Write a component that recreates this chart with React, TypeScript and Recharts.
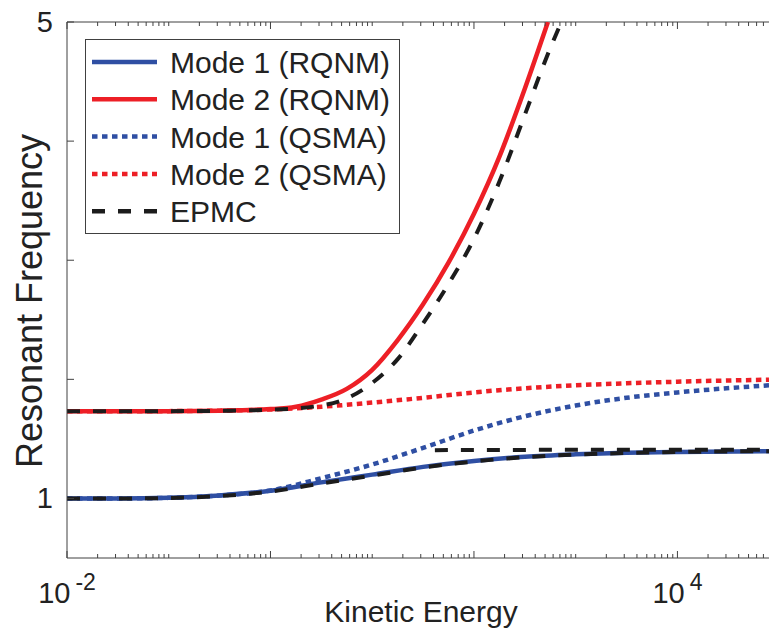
import { LineChart, Line, XAxis, YAxis, ReferenceLine, Legend, Label } from 'recharts';

const FONT = '"Liberation Sans", Arial, Helvetica, sans-serif';
const AXIS = '#404040';
const TEXT = '#222222';
const BLUE = '#2f4fa3';
const RED = '#ed1f26';
const BLACK = '#1c1c1c';

// shared energy grid (log-spaced samples)
const energyGrid = [0.01, 0.0316, 0.1, 0.316, 1, 3.16, 10, 31.6, 100, 316, 1000, 3162, 10000, 79433];
const mode1RqnmFreq = [1.0, 1.0, 1.005, 1.025, 1.065, 1.135, 1.2, 1.265, 1.315, 1.35, 1.37, 1.383, 1.39, 1.396];
const mode1QsmaFreq = [1.0, 1.0, 1.005, 1.025, 1.067, 1.17, 1.285, 1.425, 1.57, 1.69, 1.78, 1.845, 1.89, 1.95];
const mode2QsmaFreq = [1.732, 1.732, 1.733, 1.737, 1.747, 1.77, 1.805, 1.845, 1.89, 1.925, 1.95, 1.967, 1.98, 1.997];
const epmcLowFreq = [1.0, 1.0, 1.004, 1.02, 1.058, 1.125, 1.192, 1.26, 1.31, 1.347, 1.368, 1.382, 1.39, 1.397];

const mode2RqnmEnergy = [0.01, 0.1, 0.316, 1, 1.78, 3.16, 5.62, 10, 17.8, 31.6, 56.2, 100, 178, 316, 533];
const mode2RqnmFreq = [1.732, 1.733, 1.737, 1.75, 1.77, 1.83, 1.92, 2.08, 2.33, 2.63, 2.98, 3.39, 3.87, 4.44, 5.0];

const epmcHighEnergy = [0.01, 0.1, 0.316, 1, 3.16, 5.62, 10, 17.8, 31.6, 56.2, 100, 178, 316, 562, 724];
const epmcHighFreq = [1.732, 1.733, 1.736, 1.745, 1.78, 1.84, 1.97, 2.17, 2.47, 2.8, 3.18, 3.66, 4.22, 4.78, 5.0];

const epmcFlatEnergy = [41.3, 100, 1000, 10000, 79433];
const epmcFlatFreq = [1.405, 1.407, 1.408, 1.408, 1.408];

const X_MIN = 0.01;
const X_MAX = 79433;
const xMajorTicks = [0.01, 1, 100, 10000];
const xTickExp: Record<string, string> = { '0.01': '-2', '10000': '4' };
const yTicks = [1, 2, 3, 4, 5];
const yTickLabels: Record<string, string> = { '1': '1', '5': '5' };

const xTicks: number[] = [];
for (let n = -2; n <= 4; n++) {
  for (let k = 1; k <= 9; k++) {
    const v = k * Math.pow(10, n);
    if (v <= X_MAX) xTicks.push(v);
  }
}

const zip = (es: number[], fs: number[]) => es.map((e, i) => ({ e, f: fs[i] }));

const mode1Rqnm = zip(energyGrid, mode1RqnmFreq);
const mode2Rqnm = zip(mode2RqnmEnergy, mode2RqnmFreq);
const mode1Qsma = zip(energyGrid, mode1QsmaFreq);
const mode2Qsma = zip(energyGrid, mode2QsmaFreq);
const epmcLow = zip(energyGrid, epmcLowFreq);
const epmcHigh = zip(epmcHighEnergy, epmcHighFreq);
const epmcFlat = zip(epmcFlatEnergy, epmcFlatFreq);

const PLOT_TOP = 22;
const DOT = '5.5 4.5';
const DASH = '13 13';

const legendItems = [
  { name: 'Mode 1 (RQNM)', color: BLUE, dash: undefined },
  { name: 'Mode 2 (RQNM)', color: RED, dash: undefined },
  { name: 'Mode 1 (QSMA)', color: BLUE, dash: DOT },
  { name: 'Mode 2 (QSMA)', color: RED, dash: DOT },
  { name: 'EPMC', color: BLACK, dash: DASH },
];

const XTick = (props: any) => {
  const { x, y, payload } = props;
  const v = payload.value;
  const len = xMajorTicks.includes(v) ? 7 : 4;
  const exp = xTickExp[String(v)];
  return (
    <g>
      <line x1={x} y1={y} x2={x} y2={y - len} stroke={AXIS} />
      <line x1={x} y1={PLOT_TOP} x2={x} y2={PLOT_TOP + len} stroke={AXIS} />
      {exp && (
        <text x={x} y={y + 45} textAnchor="middle" fontFamily={FONT} fontSize={29} fill={TEXT}>
          <tspan>10</tspan>
          <tspan dx={5} dy={-13} fontSize={23}>{exp}</tspan>
        </text>
      )}
    </g>
  );
};

const YTick = (props: any) => {
  const { x, y, payload } = props;
  const label = yTickLabels[String(payload.value)];
  return (
    <g>
      <line x1={x} y1={y} x2={x + 7} y2={y} stroke={AXIS} />
      {label && (
        <text x={x - 14} y={y + 10} textAnchor="end" fontFamily={FONT} fontSize={29} fill={TEXT}>
          {label}
        </text>
      )}
    </g>
  );
};

const renderLegend = () => (
  <svg width={316} height={196} style={{ display: 'block' }}>
    <rect x={0.5} y={0.5} width={314} height={194} fill="#fff" stroke={AXIS} />
    {legendItems.map((it, i) => {
      const cy = 23 + i * 37.3;
      return (
        <g key={it.name}>
          <line x1={7} x2={72} y1={cy} y2={cy} stroke={it.color} strokeWidth={4.5} strokeDasharray={it.dash} />
          <text x={85} y={cy + 11} fontFamily={FONT} fontSize={30} fill={TEXT}>
            {it.name}
          </text>
        </g>
      );
    })}
  </svg>
);

export default function App() {
  return (
    <div style={{ position: 'absolute', left: 0, top: 0, width: 769, height: 632, overflow: 'hidden' }}>
      <LineChart width={769} height={632} margin={{ top: PLOT_TOP, right: 0, bottom: 0, left: 0 }}>
        <XAxis
          dataKey="e"
          type="number"
          scale="log"
          domain={[X_MIN, X_MAX]}
          allowDataOverflow
          ticks={xTicks}
          interval={0}
          height={74}
          tickSize={0}
          tickMargin={0}
          tickLine={false}
          axisLine={{ stroke: AXIS }}
          tick={<XTick />}
        >
          <Label
            content={() => (
              <text x={421} y={622} textAnchor="middle" fontFamily={FONT} fontSize={30} fill={TEXT}>
                Kinetic Energy
              </text>
            )}
          />
        </XAxis>
        <YAxis
          type="number"
          domain={[0.5, 5]}
          allowDataOverflow
          ticks={yTicks}
          interval={0}
          width={67}
          tickSize={0}
          tickMargin={0}
          tickLine={false}
          axisLine={{ stroke: AXIS }}
          tick={<YTick />}
        >
          <Label
            content={() => (
              <text
                x={42}
                y={301}
                transform="rotate(-90 42 301)"
                textAnchor="middle"
                fontFamily={FONT}
                fontSize={36}
                fill={TEXT}
              >
                Resonant Frequency
              </text>
            )}
          />
        </YAxis>
        <ReferenceLine y={5} stroke={AXIS} strokeWidth={1} />
        <Legend
          layout="vertical"
          align="center"
          verticalAlign="middle"
          content={renderLegend}
          wrapperStyle={{ left: 85, top: 39, width: 316, height: 196 }}
        />
        <Line data={mode1Rqnm} dataKey="f" type="monotone" stroke={BLUE} strokeWidth={4.5} dot={false} activeDot={false} isAnimationActive={false} />
        <Line data={mode2Rqnm} dataKey="f" type="monotone" stroke={RED} strokeWidth={4.5} dot={false} activeDot={false} isAnimationActive={false} />
        <Line data={mode1Qsma} dataKey="f" type="monotone" stroke={BLUE} strokeWidth={4.5} strokeDasharray={DOT} dot={false} activeDot={false} isAnimationActive={false} />
        <Line data={mode2Qsma} dataKey="f" type="monotone" stroke={RED} strokeWidth={4.5} strokeDasharray={DOT} dot={false} activeDot={false} isAnimationActive={false} />
        <Line data={epmcLow} dataKey="f" type="monotone" stroke={BLACK} strokeWidth={4} strokeDasharray={DASH} dot={false} activeDot={false} isAnimationActive={false} />
        <Line data={epmcHigh} dataKey="f" type="monotone" stroke={BLACK} strokeWidth={4} strokeDasharray={DASH} dot={false} activeDot={false} isAnimationActive={false} />
        <Line data={epmcFlat} dataKey="f" type="monotone" stroke={BLACK} strokeWidth={4} strokeDasharray={DASH} dot={false} activeDot={false} isAnimationActive={false} />
      </LineChart>
    </div>
  );
}
